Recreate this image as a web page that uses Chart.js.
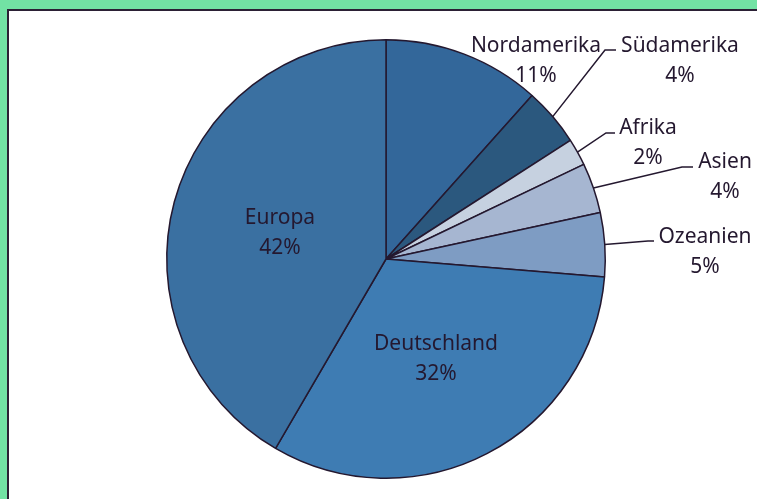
<!DOCTYPE html>
<html>
<head>
<meta charset="utf-8">
<script src="https://cdn.jsdelivr.net/npm/chart.js@4"></script>
<style>
  html, body { margin: 0; padding: 0; }
  body { width: 757px; height: 499px; overflow: hidden; background: #72e2a4; position: relative; }
  #box { position: absolute; left: 7px; top: 9px; width: 800px; height: 600px;
         background: #fff; border: 2px solid #2b2035; }
  #pie { position: absolute; left: 0; top: 0; }
</style>
</head>
<body>
<div id="box"></div>
<canvas id="pie" width="757" height="499"></canvas>
<script>
// regions, clockwise from 12 o'clock
var regions = ["Nordamerika", "Südamerika", "Afrika", "Asien", "Ozeanien", "Deutschland", "Europa"];
var shares = [11.6, 4.3, 2.0, 3.7, 4.7, 32.1, 41.6];
var shareLabels = ["11%", "4%", "2%", "4%", "5%", "32%", "42%"];
var colors = ["#33679a", "#2b587e", "#c6d1e0", "#a6b6d1", "#7e9cc3", "#3e7cb3", "#3a70a1"];

// label placement relative to pie centre: text centre, leader elbow, leader end
var labelSpots = [
    { x: 150, y: -213 },
    { x: 294, y: -213, elbow: [219, -209], end: [230, -209] },
    { x: 262, y: -131, elbow: [220, -126], end: [229, -126] },
    { x: 339, y: -97, elbow: [296, -92], end: [307, -92] },
    { x: 319, y: -22, elbow: [262, -18], end: [268, -18] },
    { x: 50, y: 85 },
    { x: -106, y: -41 }
];

var ink = "#24182f";

var pieLabels = {
    id: "pieLabels",
    afterDatasetsDraw: function(chart) {
        var ctx = chart.ctx;
        var arcs = chart.getDatasetMeta(0).data;
        ctx.save();
        ctx.font = "21px 'Noto Sans'";
        ctx.fillStyle = ink;
        ctx.strokeStyle = ink;
        ctx.lineWidth = 1.5;
        ctx.textAlign = "center";
        ctx.textBaseline = "middle";
        arcs.forEach(function(arc, i) {
            var p = arc.getProps(["x", "y", "startAngle", "endAngle", "outerRadius"], true);
            var spot = labelSpots[i];
            if (spot.elbow) {
                var mid = (p.startAngle + p.endAngle) / 2;
                ctx.beginPath();
                ctx.moveTo(p.x + Math.cos(mid) * p.outerRadius, p.y + Math.sin(mid) * p.outerRadius);
                ctx.lineTo(p.x + spot.elbow[0], p.y + spot.elbow[1]);
                ctx.lineTo(p.x + spot.end[0], p.y + spot.end[1]);
                ctx.stroke();
            }
            ctx.fillText(regions[i], p.x + spot.x, p.y + spot.y);
            ctx.fillText(shareLabels[i], p.x + spot.x, p.y + spot.y + 30);
        });
        ctx.restore();
    }
};

new Chart(document.getElementById("pie"), {
    type: "pie",
    data: {
        labels: regions,
        datasets: [{
            data: shares,
            backgroundColor: colors,
            borderColor: ink,
            borderWidth: 1.5
        }]
    },
    options: {
        responsive: false,
        animation: false,
        devicePixelRatio: 1,
        layout: { padding: { left: 166, top: 39, right: 151, bottom: 20 } },
        plugins: { legend: { display: false }, tooltip: { enabled: false } }
    },
    plugins: [pieLabels]
});
</script>
</body>
</html>
